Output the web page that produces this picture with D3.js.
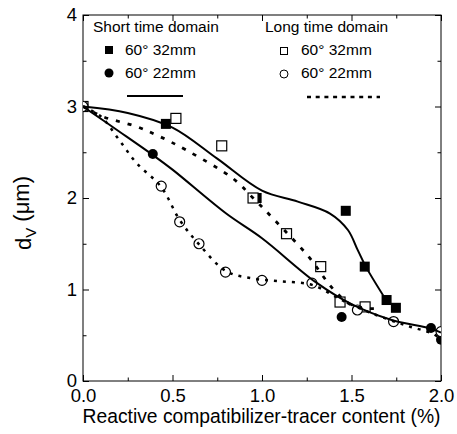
<!DOCTYPE html>
<html>
<head>
<meta charset="utf-8">
<script src="https://cdn.jsdelivr.net/npm/d3@7"></script>
<style>
  body { margin: 0; background: #fff; }
  svg { display: block; font-family: "Liberation Sans", Arial, sans-serif; }
</style>
</head>
<body>
<svg id="chart" width="457" height="434"></svg>
<script>
// ---- data ----
const xTicks = [0.0, 0.5, 1.0, 1.5, 2.0];
const xMinorTicks = [0.25, 0.75, 1.25, 1.75];
const yTicks = [0, 1, 2, 3, 4];
const yMinorTicks = [0.5, 1.5, 2.5, 3.5];

// Short time domain, 60° 32mm (filled squares)
const short32 = [[0.463, 2.81], [0.97, 2.0], [1.468, 1.86], [1.574, 1.25], [1.696, 0.885], [1.748, 0.80]];
// Short time domain, 60° 22mm (filled circles)
const short22 = [[0.39, 2.48], [1.445, 0.70], [1.944, 0.58], [2.0, 0.45]];
// Long time domain, 60° 32mm (open squares)
const long32 = [[0.0, 3.0], [0.519, 2.87], [0.775, 2.57], [0.95, 2.0], [1.137, 1.61], [1.328, 1.25], [1.436, 0.863], [1.576, 0.81]];
// Long time domain, 60° 22mm (open circles)
const long22 = [[0.0, 3.0], [0.437, 2.13], [0.54, 1.74], [0.648, 1.50], [0.796, 1.19], [1.0, 1.10], [1.279, 1.07], [1.533, 0.776], [1.735, 0.65], [2.0, 0.54]];

// fitted curves
const fitShort32 = [[0, 3.0], [0.25, 2.93], [0.5, 2.77], [0.75, 2.43], [1.0, 2.08], [1.2, 1.96], [1.38, 1.83], [1.48, 1.65], [1.535, 1.43], [1.58, 1.25], [1.685, 0.91]];
const fitShort22 = [[0, 3.0], [0.2, 2.73], [0.39, 2.47], [0.5, 2.31], [0.8, 1.83], [1.0, 1.56], [1.3, 1.08], [1.5, 0.84], [1.72, 0.67], [1.94, 0.575], [2.0, 0.53]];
const fitLong32 = [[0, 3.0], [0.11, 2.89], [0.3, 2.78], [0.43, 2.67], [0.58, 2.52], [0.84, 2.21], [0.95, 2.0], [1.06, 1.78], [1.26, 1.36], [1.40, 1.0], [1.51, 0.82], [1.66, 0.79]];
const fitLong22 = [[0, 3.0], [0.1, 2.89], [0.2, 2.64], [0.3, 2.38], [0.437, 2.12], [0.54, 1.76], [0.65, 1.49], [0.8, 1.20], [0.95, 1.12], [1.1, 1.09], [1.28, 1.05], [1.45, 0.88], [1.6, 0.75], [1.8, 0.61], [1.95, 0.52], [2.0, 0.46]];

const legendTitles = ["Short time domain", "Long time domain"];
const legendLabels = ["60° 32mm", "60° 22mm"];
const xLabel = "Reactive compatibilizer-tracer content (%)";

// ---- drawing ----
const svg = d3.select("#chart");
const x = d3.scaleLinear().domain([0, 2]).range([83, 441]);
const y = d3.scaleLinear().domain([0, 4]).range([381, 15]);

const fontSize = 18.5;

svg.append("defs").append("clipPath").attr("id", "plotclip")
  .append("rect").attr("x", x(0)).attr("y", y(4)).attr("width", x(2) - x(0)).attr("height", y(0) - y(4));

function styleAxis(g) {
  g.select(".domain").remove();
  g.selectAll("line").attr("stroke", "#000").attr("stroke-width", 1);
  g.selectAll("text").attr("font-size", fontSize).attr("fill", "#000")
    .attr("font-family", "'Liberation Sans', Arial, sans-serif");
}

// bottom axis
svg.append("g").attr("transform", `translate(0,${y(0)})`)
  .call(d3.axisBottom(x).tickValues(xTicks).tickSize(-6).tickPadding(8).tickFormat(d3.format(".1f")))
  .call(styleAxis);
svg.append("g").attr("transform", `translate(0,${y(0)})`)
  .call(d3.axisBottom(x).tickValues(xMinorTicks).tickSize(-3.5).tickFormat(""))
  .call(styleAxis);
// top axis
svg.append("g").attr("transform", `translate(0,${y(4)})`)
  .call(d3.axisTop(x).tickValues(xTicks).tickSize(-6).tickFormat(""))
  .call(styleAxis);
svg.append("g").attr("transform", `translate(0,${y(4)})`)
  .call(d3.axisTop(x).tickValues(xMinorTicks).tickSize(-3.5).tickFormat(""))
  .call(styleAxis);
// left axis
svg.append("g").attr("transform", `translate(${x(0)},0)`)
  .call(d3.axisLeft(y).tickValues(yTicks).tickSize(-6).tickPadding(6).tickFormat(d3.format("d")))
  .call(styleAxis);
svg.append("g").attr("transform", `translate(${x(0)},0)`)
  .call(d3.axisLeft(y).tickValues(yMinorTicks).tickSize(-3.5).tickFormat(""))
  .call(styleAxis);
// right axis
svg.append("g").attr("transform", `translate(${x(2)},0)`)
  .call(d3.axisRight(y).tickValues(yTicks).tickSize(-6).tickFormat(""))
  .call(styleAxis);
svg.append("g").attr("transform", `translate(${x(2)},0)`)
  .call(d3.axisRight(y).tickValues(yMinorTicks).tickSize(-3.5).tickFormat(""))
  .call(styleAxis);

// frame
svg.append("rect").attr("x", x(0)).attr("y", y(4)).attr("width", x(2) - x(0)).attr("height", y(0) - y(4))
  .attr("fill", "none").attr("stroke", "#000").attr("stroke-width", 1);

// axis titles
svg.append("text").attr("x", 261.5).attr("y", 423)
  .attr("text-anchor", "middle").attr("font-size", 19.3).text(xLabel);

const yl = svg.append("text").attr("transform", "translate(31,213) rotate(-90)")
  .attr("text-anchor", "middle").attr("font-size", 22);
yl.append("tspan").text("d");
yl.append("tspan").attr("font-size", 15).attr("dy", "0.3em").text("V");
yl.append("tspan").attr("dy", "-0.3em").text(" (μm)");

// plot layer
const plot = svg.append("g").attr("clip-path", "url(#plotclip)");
const line = d3.line().x(d => x(d[0])).y(d => y(d[1])).curve(d3.curveCatmullRom.alpha(0.5));

const sq = 10, rc = 5;
function squares(data, filled) {
  plot.selectAll(null).data(data).enter().append("rect")
    .attr("x", d => x(d[0]) - sq / 2).attr("y", d => y(d[1]) - sq / 2)
    .attr("width", sq).attr("height", sq)
    .attr("fill", filled ? "#000" : "#fff")
    .attr("stroke", "#000").attr("stroke-width", filled ? 0 : 1.2);
}
function circles(data, filled) {
  plot.selectAll(null).data(data).enter().append("circle")
    .attr("cx", d => x(d[0])).attr("cy", d => y(d[1])).attr("r", rc)
    .attr("fill", filled ? "#000" : "#fff")
    .attr("stroke", "#000").attr("stroke-width", filled ? 0 : 1.2);
}
squares(short32, true);
circles(short22, true);
squares(long32, false);
circles(long22, false);

plot.append("path").datum(fitShort32).attr("d", line).attr("fill", "none").attr("stroke", "#000").attr("stroke-width", 2);
plot.append("path").datum(fitShort22).attr("d", line).attr("fill", "none").attr("stroke", "#000").attr("stroke-width", 2);
plot.append("path").datum(fitLong32).attr("d", line).attr("fill", "none").attr("stroke", "#000")
  .attr("stroke-width", 2.8).attr("stroke-dasharray", "4,8");
plot.append("path").datum(fitLong22).attr("d", line).attr("fill", "none").attr("stroke", "#000")
  .attr("stroke-width", 2.5).attr("stroke-dasharray", "3,6");

// legend
const lg = svg.append("g").attr("font-size", 15.5);
lg.append("text").attr("x", 93).attr("y", 32).text(legendTitles[0]);
lg.append("text").attr("x", 265).attr("y", 32).text(legendTitles[1]);
lg.append("rect").attr("x", 105).attr("y", 46).attr("width", 8).attr("height", 8).attr("fill", "#000");
lg.append("circle").attr("cx", 109).attr("cy", 73).attr("r", 4.5).attr("fill", "#000");
lg.append("text").attr("x", 125).attr("y", 55).text(legendLabels[0]);
lg.append("text").attr("x", 125).attr("y", 78).text(legendLabels[1]);
lg.append("line").attr("x1", 127).attr("x2", 183).attr("y1", 96).attr("y2", 96).attr("stroke", "#000").attr("stroke-width", 2);

lg.append("rect").attr("x", 280.5).attr("y", 47.5).attr("width", 7).attr("height", 7).attr("fill", "none").attr("stroke", "#000").attr("stroke-width", 1);
lg.append("circle").attr("cx", 284).attr("cy", 74).attr("r", 4).attr("fill", "none").attr("stroke", "#000").attr("stroke-width", 1);
lg.append("text").attr("x", 301).attr("y", 55).text(legendLabels[0]);
lg.append("text").attr("x", 301).attr("y", 78).text(legendLabels[1]);
lg.append("line").attr("x1", 307).attr("x2", 380).attr("y1", 97).attr("y2", 97).attr("stroke", "#000")
  .attr("stroke-width", 2.5).attr("stroke-dasharray", "4,4.7");
</script>
</body>
</html>
